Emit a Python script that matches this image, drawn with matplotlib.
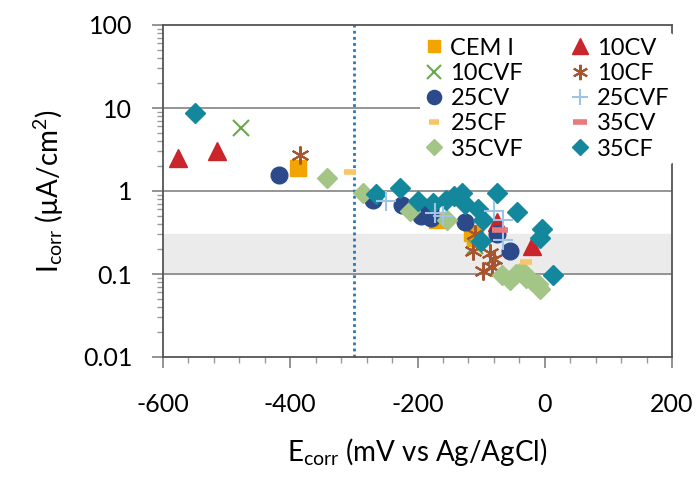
import numpy as np
import matplotlib.pyplot as plt
from matplotlib.ticker import MultipleLocator, LogLocator, NullFormatter, FixedLocator

plt.rcParams['font.family'] = ['Lato', 'DejaVu Sans']
plt.rcParams['mathtext.default'] = 'regular'
plt.rcParams['axes.unicode_minus'] = False

# ===== data (Ecorr mV, Icorr uA/cm2) =====
cem_x = [-388, -170, -115, -110]
cem_y = [1.9, 0.45, 0.31, 0.27]

cv10_x = [-576, -515, -75, -20]
cv10_y = [2.5, 3.0, 0.42, 0.22]

cvf10_x = [-478, -110]
cvf10_y = [5.7, 0.22]

cf10_x = [-385, -110, -112, -97, -83, -80, -86]
cf10_y = [2.7, 0.3, 0.19, 0.11, 0.12, 0.15, 0.18]

cv25_x = [-418, -270, -225, -205, -190, -180, -195, -178, -125, -75, -55]
cv25_y = [1.55, 0.78, 0.68, 0.62, 0.65, 0.6, 0.5, 0.47, 0.42, 0.3, 0.19]

cvf25_x = [-250, -172, -160, -80, -65, -65]
cvf25_y = [0.76, 0.55, 0.5, 0.57, 0.45, 0.26]

cf25_x = [-306, -30]
cf25_y = [1.7, 0.14]

cv35_x = [-70]
cv35_y = [0.34]

cvf35_x = [-342, -286, -212, -153, -67, -55, -45, -36, -30, -22, -10, -7]
cvf35_y = [1.45, 0.95, 0.57, 0.45, 0.097, 0.085, 0.1, 0.11, 0.09, 0.085, 0.075, 0.066]

cf35_x = [-550, -265, -228, -200, -175, -155, -142, -130, -125, -105, -97, -100, -75, -44, -5, -7, 13]
cf35_y = [8.8, 0.92, 1.08, 0.75, 0.72, 0.78, 0.88, 0.95, 0.7, 0.6, 0.45, 0.25, 0.95, 0.56, 0.35, 0.27, 0.097]

fig = plt.figure(figsize=(6.97, 4.8), dpi=100)
ax = fig.add_axes([163/697, 1-357/480, (672-163)/697, (357-25)/480])

# gray band and reference lines
ax.axhspan(0.1, 0.3, color='#ebebeb', zorder=0)
for yy in [10, 1, 0.1]:
    ax.axhline(yy, color='#8c8c8c', lw=1.3, zorder=1)
ax.axvline(-300, color='#2e75b6', lw=2, ls=(0, (1, 1.2)), zorder=1)

ax.plot(cem_x, cem_y, 's', color='#f2a400', ms=11, ls='none', label='CEM I', zorder=3)
ax.plot(cv10_x, cv10_y, '^', color='#c9252b', ms=13, ls='none', label='10CV', zorder=3)
ax.plot(cvf10_x, cvf10_y, 'x', color='#6aa84f', ms=12, mew=1.5, ls='none', label='10CVF', zorder=3)
ax.plot(cf10_x, cf10_y, marker=(6, 2, 0), color='#a5562f', ms=13, mew=1.5, ls='none', label='10CF', zorder=3)
ax.plot(cv25_x, cv25_y, 'o', color='#2c4a8a', ms=12, ls='none', label='25CV', zorder=3)
ax.plot(cvf25_x, cvf25_y, '+', color='#9dc3e6', ms=14, mew=1.5, ls='none', label='25CVF', zorder=4)
ax.plot(cf25_x, cf25_y, '_', color='#f7c66a', ms=8, mew=4, ls='none', label='25CF', zorder=4)
ax.plot(cv35_x, cv35_y, '_', color='#e8797c', ms=12, mew=4, ls='none', label='35CV', zorder=4)
ax.plot(cvf35_x, cvf35_y, 'D', color='#a3c585', ms=10, ls='none', label='35CVF', zorder=3)
ax.plot(cf35_x, cf35_y, 'D', color='#13879b', ms=10, ls='none', label='35CF', zorder=3)

ax.set_yscale('log')
ax.set_ylim(0.01, 100)
ax.set_xlim(-600, 200)
ax.xaxis.set_major_locator(MultipleLocator(200))
ax.xaxis.set_minor_locator(MultipleLocator(40))
ax.yaxis.set_major_locator(FixedLocator([0.01, 0.1, 1, 10, 100]))
ax.yaxis.set_minor_locator(LogLocator(base=10, subs=np.arange(2, 10)))
ax.yaxis.set_minor_formatter(NullFormatter())
ax.set_yticklabels(['0.01', '0.1', '1', '10', '100'])

for s in ax.spines.values():
    s.set_color('#555555')
    s.set_linewidth(1.3)

ax.tick_params(axis='both', which='major', direction='out', length=8, width=1.1,
               color='#777777', labelsize=18, pad=14)
ax.tick_params(axis='both', which='minor', direction='out', length=4, width=1,
               color='#999999')
ax.tick_params(axis='x', which='major', pad=18)

ax.set_xlabel('E$_{corr}$ (mV vs Ag/AgCl)', fontsize=20, labelpad=14)
ax.set_ylabel('I$_{corr}$ (µA/cm$^{2}$)', fontsize=20, labelpad=12)

# legend filled row by row like the original
handles, labels = ax.get_legend_handles_labels()
order = [0, 2, 4, 6, 8, 1, 3, 5, 7, 9]
leg = ax.legend([handles[i] for i in order], [labels[i] for i in order],
                ncol=2, loc='upper left', bbox_to_anchor=(408/697, 1-21/480),
                bbox_transform=fig.transFigure, fontsize=17, frameon=True,
                facecolor='white', edgecolor='none', framealpha=1,
                labelspacing=0.18, handlelength=0.8, handletextpad=0.3,
                columnspacing=2.0, borderpad=0.2, markerscale=0.85)
leg.set_zorder(5)

fig.savefig('out.png', dpi=100)
